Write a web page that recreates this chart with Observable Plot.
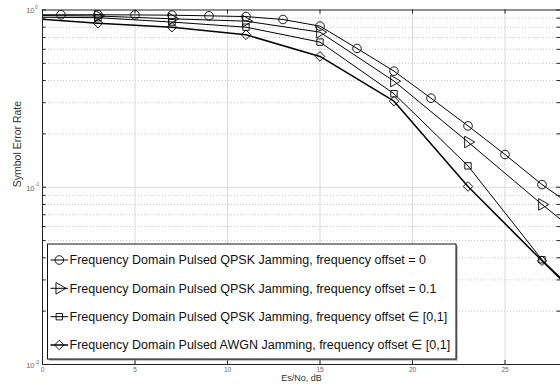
<!DOCTYPE html>
<html><head><meta charset="utf-8">
<script src="https://cdn.jsdelivr.net/npm/d3@7"></script>
<script src="https://cdn.jsdelivr.net/npm/@observablehq/plot@0.6"></script>
<style>
body{margin:0;background:#fff;}
#chart{position:relative;width:560px;height:384px;overflow:hidden;background:#fff}
</style>
</head><body><div id="chart"></div>
<script>
// ---- data ----
const seriesNames = [
  "Frequency Domain Pulsed QPSK Jamming, frequency offset = 0",
  "Frequency Domain Pulsed QPSK Jamming, frequency offset = 0.1",
  "Frequency Domain Pulsed QPSK Jamming, frequency offset \u2208 [0,1]",
  "Frequency Domain Pulsed AWGN Jamming, frequency offset \u2208 [0,1]"
];
const xCircle = [-1, 1, 3, 5, 7, 9, 11, 13, 15, 17, 19, 21, 23, 25, 27, 29];
const yCircle = [0.94, 0.94, 0.94, 0.938, 0.935, 0.927, 0.918, 0.884, 0.811, 0.607, 0.452, 0.318, 0.222, 0.153, 0.1035, 0.074];
const xOther = [-1, 3, 7, 11, 15, 19, 23, 27, 31];
const yTriangle = [0.932, 0.925, 0.892, 0.865, 0.75, 0.397, 0.18, 0.080, 0.037];
const ySquare = [0.912, 0.905, 0.855, 0.80, 0.659, 0.337, 0.132, 0.039, 0.0155];
const yDiamond = [0.90, 0.843, 0.80, 0.725, 0.547, 0.306, 0.101, 0.0385, 0.015];
const xTicks = [0, 5, 10, 15, 20, 25];
const yMajor = [0.01, 0.1, 1];
const yMajorExp = ["-2", "-1", "0"];
const yMinor = [0.02,0.03,0.04,0.05,0.06,0.07,0.08,0.09,0.2,0.3,0.4,0.5,0.6,0.7,0.8,0.9];
const xLabel = "Es/No, dB";
const yLabel = "Symbol Error Rate";

// ---- layout ----
const W = 560, H = 384, mL = 42, mR = 0, mT = 9.5, mB = 20;
const innerW = W - mL - mR, innerH = H - mT - mB;
const font = "'Liberation Sans', Arial, Helvetica, sans-serif";

const series = [
  {name: seriesNames[0], xs: xCircle, ys: yCircle,   symbol: "circle",   rotate: 0,  r: 4.3, sw: 1},
  {name: seriesNames[1], xs: xOther,  ys: yTriangle, symbol: "triangle", rotate: 90, r: 4.3, sw: 1},
  {name: seriesNames[2], xs: xOther,  ys: ySquare,   symbol: "square",   rotate: 0,  r: 3.6, sw: 1},
  {name: seriesNames[3], xs: xOther,  ys: yDiamond,  symbol: "diamond2", rotate: 0,  r: 4.3, sw: 1.5}
];

const marks = [
  Plot.ruleY(yMinor, {stroke: "#c4c4c4", strokeDasharray: "1,2"}),
  Plot.ruleY([0.1], {stroke: "#dadada"}),
  Plot.ruleX(xTicks.filter(d => d > 0), {stroke: "#dadada"})
];
for (const s of series) {
  const rows = s.xs.map((x, i) => ({x, y: s.ys[i]}));
  marks.push(Plot.line(rows, {x: "x", y: "y", stroke: "black", strokeWidth: s.sw, clip: true}));
  marks.push(Plot.dot(rows, {x: "x", y: "y", symbol: s.symbol, rotate: s.rotate, r: s.r,
    stroke: "black", fill: "none", strokeWidth: 0.9, clip: true}));
}
marks.push(
  Plot.ruleX(xTicks, {insetTop: innerH - 4, stroke: "#222"}),
  Plot.ruleX(xTicks, {insetBottom: innerH - 4, stroke: "#222"}),
  Plot.ruleY(yMajor, {insetRight: innerW - 4, stroke: "#222"}),
  Plot.ruleY(yMajor, {insetLeft: innerW - 4, stroke: "#222"}),
  Plot.ruleY(yMinor, {insetRight: innerW - 3.5, stroke: "#222"}),
  Plot.ruleY(yMinor, {insetLeft: innerW - 3.5, stroke: "#222"}),
  Plot.frame({stroke: "#222"}),
  // y tick labels 10^n
  Plot.text(yMajor, {y: d => d, frameAnchor: "left", text: () => "10", textAnchor: "end",
    dx: -8, dy: 1, fontSize: 7.5, fill: "#666"}),
  Plot.text(yMajor, {y: d => d, frameAnchor: "left", text: (d, i) => yMajorExp[i], textAnchor: "start",
    dx: -7.6, dy: -2.5, fontSize: 5, fill: "#666"}),
  // x tick labels
  Plot.text(xTicks, {x: d => d, frameAnchor: "bottom", text: d => String(d), dy: 7, fontSize: 6.5, fill: "#666"}),
  // axis labels
  Plot.text([xLabel], {frameAnchor: "bottom", text: d => d, dy: 16, fontSize: 9, fill: "#333"}),
  Plot.text([yLabel], {frameAnchor: "left", text: d => d, dx: -25, rotate: -90, fontSize: 10.5, fill: "#333"})
);

const plot = Plot.plot({
  width: W, height: H,
  marginLeft: mL, marginRight: mR, marginTop: mT, marginBottom: mB,
  style: {background: "white", fontFamily: font, overflow: "visible"},
  x: {domain: [0, 28], axis: null},
  y: {type: "log", domain: [0.01, 1], axis: null},
  marks
});

// ---- legend (inside the axes, lower left) ----
const svg = d3.select(plot);
const lg = {x0: 47.5, y0: 244, x1: 456, y1: 359, rowY: [260, 288.3, 316.7, 345]};
const g = svg.append("g").attr("text-anchor", "start");
g.append("rect").attr("x", lg.x0 + 1.5).attr("y", lg.y0 + 1.5)
  .attr("width", lg.x1 - lg.x0).attr("height", lg.y1 - lg.y0).attr("fill", "#8a8a8a");
g.append("rect").attr("x", lg.x0).attr("y", lg.y0)
  .attr("width", lg.x1 - lg.x0).attr("height", lg.y1 - lg.y0)
  .attr("fill", "white").attr("stroke", "#111").attr("stroke-width", 1);
const symMap = {circle: d3.symbolCircle, triangle: d3.symbolTriangle, square: d3.symbolSquare, diamond2: d3.symbolDiamond2};
series.forEach((s, i) => {
  const y = lg.rowY[i];
  g.append("line").attr("x1", 50.5).attr("x2", 68).attr("y1", y).attr("y2", y)
    .attr("stroke", "black").attr("stroke-width", s.sw);
  g.append("path").attr("d", d3.symbol(symMap[s.symbol], Math.PI * s.r * s.r)())
    .attr("transform", `translate(59.3,${y}) rotate(${s.rotate})`)
    .attr("fill", "none").attr("stroke", "black").attr("stroke-width", 0.9);
  g.append("text").attr("x", 69.5).attr("y", y).attr("dy", "0.35em")
    .attr("text-anchor", "start")
    .attr("font-size", 12.5).attr("font-family", font).attr("fill", "#111").text(s.name);
});

document.getElementById("chart").appendChild(plot);
</script>
</body></html>
